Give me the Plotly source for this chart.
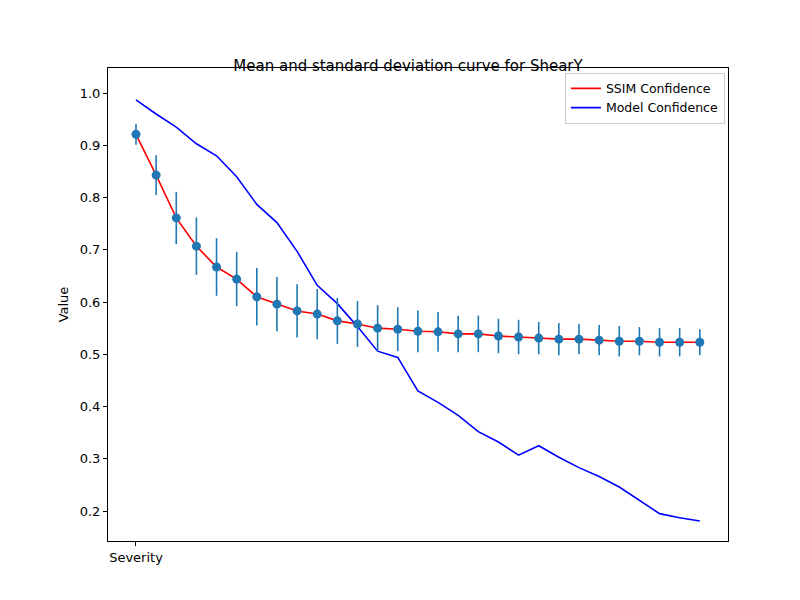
import plotly.graph_objects as go

severity = list(range(29))
ssim_mean = [0.921, 0.843, 0.761, 0.707, 0.667, 0.644, 0.610, 0.596, 0.583, 0.577,
             0.564, 0.558, 0.550, 0.548, 0.544, 0.543, 0.539, 0.539, 0.535, 0.533,
             0.531, 0.529, 0.529, 0.527, 0.525, 0.525, 0.523, 0.523, 0.523]
ssim_std = [0.020, 0.038, 0.050, 0.055, 0.055, 0.052, 0.055, 0.052, 0.051, 0.048,
            0.044, 0.044, 0.044, 0.042, 0.040, 0.038, 0.035, 0.035, 0.033, 0.033,
            0.031, 0.031, 0.029, 0.029, 0.029, 0.027, 0.027, 0.027, 0.025]
model_conf = [0.987, 0.960, 0.935, 0.903, 0.880, 0.840, 0.787, 0.752, 0.697, 0.632,
              0.597, 0.553, 0.506, 0.494, 0.430, 0.408, 0.383, 0.352, 0.332, 0.307,
              0.325, 0.303, 0.283, 0.266, 0.246, 0.220, 0.195, 0.187, 0.181]

fig = go.Figure()
fig.add_trace(go.Scatter(x=severity, y=ssim_mean, mode="lines", name="SSIM Confidence",
                         line=dict(color="red", width=1.6)))
fig.add_trace(go.Scatter(x=severity, y=model_conf, mode="lines", name="Model Confidence",
                         line=dict(color="blue", width=1.6)))
fig.add_trace(go.Scatter(x=severity, y=ssim_mean, mode="markers", showlegend=False,
                         marker=dict(color="#1f77b4", size=9),
                         error_y=dict(type="data", array=ssim_std, color="#1f77b4",
                                      thickness=1.6, width=0)))

axis = dict(showgrid=False, zeroline=False, showline=True, mirror=True, linecolor="black",
            ticks="outside", tickcolor="black", ticklen=4, automargin=False)
fig.update_layout(
    width=800, height=600, plot_bgcolor="white", paper_bgcolor="white",
    font=dict(family="DejaVu Sans", size=13, color="black"),
    margin=dict(l=100, r=80, t=60, b=67),
    title=dict(text="Mean and standard deviation curve for ShearY", x=0.5, y=0.903,
               xanchor="center", yanchor="middle", font=dict(size=15)),
    xaxis=dict(axis, range=[-1.39, 29.4], tickvals=[0], ticktext=["Severity"]),
    yaxis=dict(axis, range=[0.1426, 1.048], dtick=0.1, tickformat=".1f",
               title=dict(text="Value", standoff=8, font=dict(size=13))),
    legend=dict(x=0.995, y=0.99, xanchor="right", yanchor="top", bordercolor="#cccccc",
                borderwidth=1, bgcolor="white", font=dict(size=12.5)),
)
fig.write_html("out.html")
